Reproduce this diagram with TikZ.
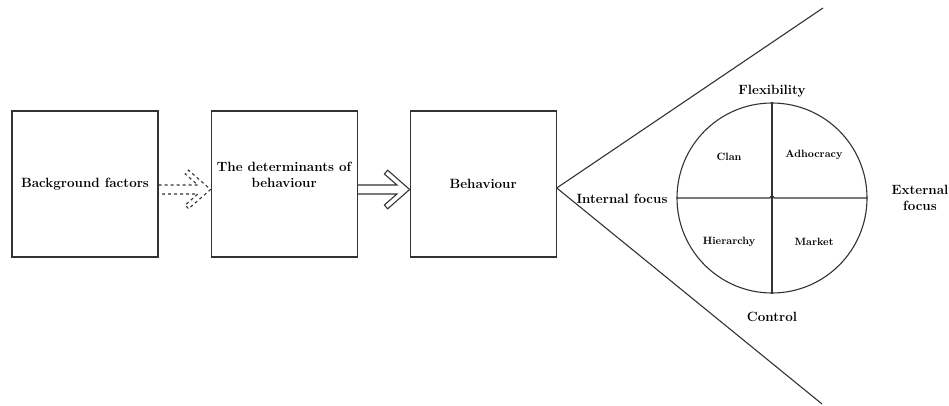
\documentclass[tikz,border=0pt]{standalone}
\usepackage{tikz}
\usetikzlibrary{positioning}

\begin{document}
\begin{tikzpicture}[x=1pt,y=1pt,line width=1.1pt,draw=black!80,
    stagebox/.style={draw,minimum width=\boxsize pt,minimum height=\boxsize pt,inner sep=0},
    hollow/.style={line join=miter},
    bigtext/.style={font=\bigfontsize\bfseries,align=center},
    smalltext/.style={font=\smallfontsize\bfseries,align=center}]
    \pgfmathsetmacro{\boxsize}{146}
    \pgfmathsetmacro{\boxgap}{52}
    \pgfmathsetmacro{\circlesize}{190}
    \providecommand{\bigfontsize}{\fontsize{13.4}{15.5}\selectfont}
    \providecommand{\smallfontsize}{\fontsize{10.6}{12}\selectfont}
    \useasboundingbox (0,0) rectangle (949,405);
    % the three stages
    \node[stagebox] (bg) at (85,221) {};
    \node[stagebox,right=\boxgap pt of bg] (det) {};
    \node[stagebox,right=\boxgap pt of det] (beh) {};
    \node[bigtext] (bgtext) at (bg.center) {Background factors};
    \node[bigtext] (dettext) at ([yshift=9pt]det.center) {The determinants of\\behaviour};
    \node[bigtext] (behtext) at (beh.center) {Behaviour};
    % hollow arrows
    \draw[hollow,dashed] ([yshift=-1pt]bg.east) -- ([xshift=-12.7pt,yshift=-1pt]det.west) -- ++(-12.6,11) -- ++(3.3,3.8)
        -- ([yshift=-5.5pt]det.west) -- ++(-22,-19.3) -- ++(-3.3,3.8) -- ++(12.6,11) -- ([yshift=-10pt]bg.east);
    \draw[hollow] ([yshift=-1pt]det.east) -- ([xshift=-12.7pt,yshift=-1pt]beh.west) -- ++(-12.6,11) -- ++(3.3,3.8)
        -- ([yshift=-5.5pt]beh.west) -- ++(-22,-19.3) -- ++(-3.3,3.8) -- ++(12.6,11) -- ([yshift=-10pt]det.east);
    % the cone
    \coordinate (apex) at ([yshift=-4pt]beh.east);
    \coordinate (upper) at (823,397);
    \coordinate (lower) at (822,1);
    \draw (upper) -- (apex) -- (lower);
    % competing values circle
    \node[draw,circle,minimum size=\circlesize pt,inner sep=0] (quad) at (772,207) {};
    \draw (quad.north) -- (quad.south);
    \draw (quad.west) -- ([xshift=-2pt]quad.center) arc[start angle=180,end angle=0,radius=2pt] -- (quad.east);
    \node[bigtext,above=1pt of quad] (flex) {Flexibility};
    \node[bigtext,below=15pt of quad] (ctrl) {Control};
    \node[bigtext] (internal) at (622,206) {Internal focus};
    \node[bigtext] (external) at (920,207) {External\\focus};
    \node[smalltext] (clan) at (729,248) {Clan};
    \node[smalltext] (adhoc) at (814,250) {Adhocracy};
    \node[smalltext] (hier) at (729,163) {Hierarchy};
    \node[smalltext] (market) at (814,163) {Market};
\end{tikzpicture}
\end{document}
